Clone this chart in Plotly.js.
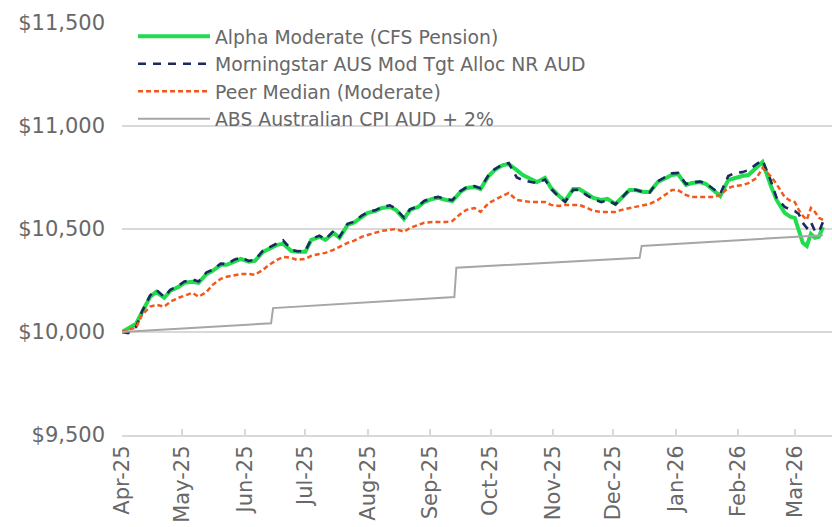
<!DOCTYPE html>
<html>
<head>
<meta charset="utf-8">
<script src="https://cdn.plot.ly/plotly-3.0.1.min.js"></script>
<style>
  html, body { margin: 0; padding: 0; background: #ffffff; }
  #chart { width: 832px; height: 527px; }
</style>
</head>
<body>
<div id="chart"></div>
<script>
var dates = [
  "2025-04-01","2025-04-04","2025-04-08","2025-04-11","2025-04-15","2025-04-18","2025-04-22","2025-04-25","2025-04-29",
  "2025-05-02","2025-05-06","2025-05-09","2025-05-13","2025-05-16","2025-05-20","2025-05-23","2025-05-27","2025-05-30",
  "2025-06-03","2025-06-06","2025-06-10","2025-06-13","2025-06-17","2025-06-20","2025-06-24","2025-06-27",
  "2025-07-01","2025-07-04","2025-07-08","2025-07-11","2025-07-15","2025-07-18","2025-07-22","2025-07-25","2025-07-29",
  "2025-08-01","2025-08-05","2025-08-08","2025-08-12","2025-08-15","2025-08-19","2025-08-22","2025-08-26","2025-08-29",
  "2025-09-02","2025-09-05","2025-09-09","2025-09-12","2025-09-16","2025-09-19","2025-09-23","2025-09-26","2025-09-30",
  "2025-10-03","2025-10-07","2025-10-10","2025-10-14","2025-10-17","2025-10-21","2025-10-24","2025-10-28","2025-10-31",
  "2025-11-04","2025-11-07","2025-11-11","2025-11-14","2025-11-18","2025-11-21","2025-11-25","2025-11-28",
  "2025-12-02","2025-12-05","2025-12-09","2025-12-12","2025-12-16","2025-12-19","2025-12-23","2025-12-26","2025-12-30",
  "2026-01-02","2026-01-06","2026-01-09","2026-01-13","2026-01-16","2026-01-20","2026-01-23","2026-01-27","2026-01-30",
  "2026-02-03","2026-02-06","2026-02-10","2026-02-13","2026-02-17","2026-02-20","2026-02-24","2026-02-27",
  "2026-03-01","2026-03-03","2026-03-05","2026-03-07","2026-03-09","2026-03-11","2026-03-13","2026-03-15"
];

var alphaModerate = [
  10000,10016,10040,10098,10171,10195,10166,10200,10219,
  10239,10244,10239,10282,10297,10326,10326,10345,10355,
  10341,10345,10389,10404,10423,10428,10394,10389,
  10389,10447,10462,10447,10481,10457,10520,10530,10559,
  10578,10588,10602,10607,10593,10549,10593,10607,10631,
  10646,10651,10641,10636,10680,10699,10704,10694,10757,
  10786,10810,10815,10786,10762,10743,10728,10748,10699,
  10660,10636,10694,10694,10670,10651,10641,10646,
  10622,10651,10689,10689,10680,10680,10728,10743,10762,
  10767,10714,10723,10728,10718,10684,10660,10738,10748,
  10757,10762,10801,10825,10714,10641,10578,10559,
  10554,10486,10433,10418,10476,10457,10462,10510
];

var morningstar = [
  10000,9995,10025,10100,10178,10205,10170,10205,10225,
  10245,10255,10245,10290,10302,10332,10330,10352,10360,
  10345,10350,10395,10410,10430,10445,10400,10392,
  10392,10452,10468,10450,10490,10462,10525,10535,10565,
  10582,10592,10606,10615,10598,10555,10596,10610,10636,
  10650,10656,10644,10640,10684,10702,10708,10698,10762,
  10790,10814,10820,10750,10738,10728,10723,10740,10695,
  10655,10632,10690,10690,10662,10645,10630,10640,
  10620,10650,10692,10690,10678,10678,10732,10748,10770,
  10772,10718,10726,10730,10720,10690,10670,10757,10771,
  10776,10786,10815,10834,10738,10651,10607,10593,
  10588,10573,10530,10505,10534,10491,10486,10534
];

var peerMedian = [
  10000,10011,10021,10084,10123,10132,10123,10147,10166,
  10176,10190,10171,10195,10229,10258,10268,10278,10282,
  10282,10278,10302,10326,10350,10365,10360,10350,
  10355,10370,10379,10384,10399,10413,10433,10442,10462,
  10471,10481,10491,10496,10500,10486,10505,10520,10530,
  10534,10534,10534,10539,10573,10593,10602,10583,10626,
  10641,10660,10675,10641,10636,10631,10631,10631,10617,
  10612,10617,10617,10617,10602,10588,10583,10583,
  10583,10593,10602,10607,10617,10622,10641,10660,10689,
  10689,10665,10655,10655,10655,10655,10665,10699,10709,
  10713,10723,10747,10796,10757,10718,10655,10636,
  10631,10593,10564,10544,10602,10583,10554,10544
];

var cpiDates = ["2025-04-01","2025-06-14","2025-06-15","2025-09-13","2025-09-14","2025-12-14","2025-12-15","2026-03-15"];
var cpiValues = [10000,10042,10116,10170,10312,10360,10418,10470];

var seriesNames = [
  "Alpha Moderate (CFS Pension)",
  "Morningstar AUS Mod Tgt Alloc NR AUD",
  "Peer Median (Moderate)",
  "ABS Australian CPI AUD + 2%"
];

var xTickVals = ["2025-04-01","2025-05-01","2025-06-01","2025-07-01","2025-08-01","2025-09-01","2025-10-01","2025-11-01","2025-12-01","2026-01-01","2026-02-01","2026-03-01"];
var xTickText = ["Apr-25","May-25","Jun-25","Jul-25","Aug-25","Sep-25","Oct-25","Nov-25","Dec-25","Jan-26","Feb-26","Mar-26"];
var yTickVals = [9500,10000,10500,11000,11500];
var yTickText = ["$9,500","$10,000","$10,500","$11,000","$11,500"];

var traces = [
  {x: dates, y: alphaModerate, name: seriesNames[0], type: "scatter", mode: "lines",
   line: {color: "#22DB4F", width: 4}},
  {x: dates, y: morningstar, name: seriesNames[1], type: "scatter", mode: "lines",
   line: {color: "#1B2A5E", width: 2.6, dash: "8px,7px"}},
  {x: dates, y: peerMedian, name: seriesNames[2], type: "scatter", mode: "lines",
   line: {color: "#F0581C", width: 2.5, dash: "5px,3px"}},
  {x: cpiDates, y: cpiValues, name: seriesNames[3], type: "scatter", mode: "lines",
   line: {color: "#A6A6A6", width: 2}}
];

var textColor = "#686868";

var layout = {
  width: 832, height: 527,
  margin: {l: 122, r: 0, t: 23, b: 92},
  paper_bgcolor: "#ffffff", plot_bgcolor: "#ffffff",
  font: {family: "DejaVu Sans, sans-serif", color: textColor, size: 20},
  showlegend: true,
  legend: {x: 0.0155, y: 1.013, xanchor: "left", yanchor: "top", bgcolor: "rgba(0,0,0,0)",
           font: {family: "DejaVu Sans, sans-serif", size: 18.8, color: textColor},
           itemwidth: 72, tracegroupgap: 0},
  hovermode: false,
  xaxis: {
    type: "date",
    range: ["2025-04-01", "2026-03-19 12:00"],
    tickvals: xTickVals, ticktext: xTickText,
    tickangle: -90,
    tickfont: {family: "DejaVu Sans, sans-serif", size: 21, color: textColor},
    ticks: "inside", ticklen: 6, tickwidth: 2, tickcolor: "#D9D9D9",
    showline: true, linecolor: "#D9D9D9", linewidth: 2,
    showgrid: false, zeroline: false, fixedrange: true
  },
  yaxis: {
    range: [9500, 11500],
    tickvals: yTickVals, ticktext: yTickText,
    tickfont: {family: "DejaVu Sans, sans-serif", size: 21, color: textColor},
    showgrid: true, gridcolor: "#D9D9D9", gridwidth: 1.5,
    zeroline: false, showline: false, ticks: "", ticklabelstandoff: 16,
    fixedrange: true
  }
};

Plotly.newPlot("chart", traces, layout, {displayModeBar: false, staticPlot: true});
</script>
</body>
</html>
